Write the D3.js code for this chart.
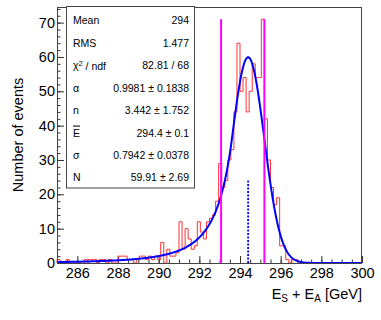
<!DOCTYPE html>
<html lang="en">
<head>
    <meta charset="UTF-8"/>
    <title>Energy sum fit</title>
    <script src="https://d3js.org/d3.v7.min.js"></script>
    <style>
        body { margin: 0; background: #fff; }
        text { font-family: "Liberation Sans", Arial, sans-serif; }
        .tick line { stroke: #333; }
    </style>
</head>
<body>
<div id="chart"></div>
<script>
    // histogram: 100 bins of 0.15 GeV starting at 285 GeV
    const binStart = 285;
    const binWidth = 0.15;
    const counts = [
        1, 0, 0, 1, 0, 0, 0, 0, 0, 1,
        1, 1, 1, 0, 1, 1, 0, 1, 0, 0,
        2, 2, 2, 1, 1, 0, 1, 2, 2, 1,
        2, 1, 2, 1, 6, 0, 4, 2, 2, 3,
        12, 4, 10, 7, 4, 5, 12, 9, 7, 12,
        13, 14, 18, 29, 22, 24, 30, 33, 44, 64,
        50, 54, 44, 50, 58, 54, 54, 71, 42, 30,
        22, 17, 19, 5, 5, 1, 0, 1, 1, 0,
        0, 0, 0, 0, 0, 0, 0, 0, 0, 0,
        0, 0, 0, 0, 0, 0, 0, 0, 0, 0
    ];

    // crystal ball fit parameters (from the stat box)
    const fitAlpha = 0.9981;
    const fitN = 3.442;
    const fitMean = 294.4;
    const fitSigma = 0.7942;
    const fitNorm = 59.91;

    // vertical markers
    const windowEdges = [293.07, 295.2];
    const windowHeight = 71;
    const meanMarkerHeight = 24;

    // axis ticks
    const xTicks = [286, 288, 290, 292, 294, 296, 298, 300];
    const yTicks = [0, 10, 20, 30, 40, 50, 60, 70];

    // stat box
    const statLabels = ["Mean", "RMS", "χ2 / ndf", "α", "n", "E", "σ", "N"];
    const statValues = ["294", "1.477", "82.81 / 68", "0.9981 ± 0.1838", "3.442 ± 1.752",
        "294.4 ± 0.1", "0.7942 ± 0.0378", "59.91 ± 2.69"];

    const W = 381, H = 320;
    const frame = {left: 57, right: 362, top: 7, bottom: 263};

    const svg = d3.select("#chart").append("svg")
        .attr("width", W)
        .attr("height", H);

    const x = d3.scaleLinear().domain([285, 300]).range([frame.left, frame.right]);
    const y = d3.scaleLinear().domain([0, 74.55]).range([frame.bottom, frame.top]);

    // x axis, ticks pointing inward
    const xMinor = d3.range(285, 300.01, 0.5);
    svg.append("g")
        .attr("transform", "translate(0," + frame.bottom + ")")
        .call(d3.axisBottom(x).tickValues(xMinor).tickSize(-3.5).tickFormat(""))
        .call(g => g.select(".domain").remove());
    svg.append("g")
        .attr("transform", "translate(0," + frame.bottom + ")")
        .call(d3.axisBottom(x).tickValues(xTicks).tickSize(-7).tickPadding(4.5).tickFormat(d3.format("d")))
        .call(g => g.select(".domain").remove())
        .call(g => g.selectAll("text").style("font-size", "14.5px").attr("fill", "#000"));

    // y axis
    const yMinor = d3.range(0, 74.5, 2);
    svg.append("g")
        .attr("transform", "translate(" + frame.left + ",0)")
        .call(d3.axisLeft(y).tickValues(yMinor).tickSize(-3.5).tickFormat(""))
        .call(g => g.select(".domain").remove());
    svg.append("g")
        .attr("transform", "translate(" + frame.left + ",0)")
        .call(d3.axisLeft(y).tickValues(yTicks).tickSize(-7).tickPadding(2))
        .call(g => g.select(".domain").remove())
        .call(g => g.selectAll("text").style("font-size", "14.5px").attr("fill", "#000"));

    // histogram outline
    const steps = [{e: binStart, v: 0}];
    counts.forEach(function(c, i) { steps.push({e: binStart + i * binWidth, v: c}); });
    steps.push({e: binStart + counts.length * binWidth, v: 0});
    svg.append("path")
        .datum(steps)
        .attr("fill", "none")
        .attr("stroke", "#ff3333")
        .attr("stroke-width", 1)
        .attr("d", d3.line()
            .x(d => x(d.e))
            .y(d => y(d.v))
            .curve(d3.curveStepAfter));

    // crystal ball fit curve
    function crystalBall(e) {
        const t = (e - fitMean) / fitSigma;
        if (t > -fitAlpha) return fitNorm * Math.exp(-t * t / 2);
        const A = Math.pow(fitN / fitAlpha, fitN) * Math.exp(-fitAlpha * fitAlpha / 2);
        const B = fitN / fitAlpha - fitAlpha;
        return fitNorm * A * Math.pow(B - t, -fitN);
    }
    const fitPts = d3.range(285, 300.001, 0.02).map(e => ({e: e, v: crystalBall(e)}));
    svg.append("path")
        .datum(fitPts)
        .attr("fill", "none")
        .attr("stroke", "#0000ff")
        .attr("stroke-width", 2)
        .attr("d", d3.line().x(d => x(d.e)).y(d => y(d.v)));

    // magenta window lines
    svg.selectAll(".window")
        .data(windowEdges)
        .enter().append("line")
        .attr("x1", d => x(d)).attr("x2", d => x(d))
        .attr("y1", y(0)).attr("y2", y(windowHeight))
        .attr("stroke", "#ff00ff")
        .attr("stroke-width", 2);

    // dotted line at fitted mean
    svg.append("line")
        .attr("x1", x(fitMean)).attr("x2", x(fitMean))
        .attr("y1", y(0)).attr("y2", y(meanMarkerHeight))
        .attr("stroke", "#0000ff")
        .attr("stroke-width", 1.8)
        .attr("stroke-dasharray", "2,1.5");

    // frame
    svg.append("rect")
        .attr("x", frame.left + 0.5).attr("y", frame.top + 0.5)
        .attr("width", frame.right - frame.left - 1)
        .attr("height", frame.bottom - frame.top)
        .attr("fill", "none")
        .attr("stroke", "#444");

    // stat box
    svg.append("rect")
        .attr("x", 66.5).attr("y", 6.5)
        .attr("width", 128).attr("height", 181.5)
        .attr("fill", "#fff")
        .attr("stroke", "#444");

    const rows = svg.append("g").selectAll("g")
        .data(statLabels)
        .enter().append("g")
        .attr("transform", (d, i) => "translate(0," + (20.7 + i * 22.43) + ")");

    rows.append("text")
        .attr("x", 73)
        .attr("dy", "0.35em")
        .style("font-size", "10.5px")
        .each(function(d) {
            const t = d3.select(this);
            if (d === "χ2 / ndf") {
                t.append("tspan").text("χ");
                t.append("tspan").text("2").attr("dy", "-0.4em").style("font-size", "7.5px");
                t.append("tspan").text(" / ndf").attr("dy", "0.4em");
            } else if (d === "E") {
                t.append("tspan").text("E").style("text-decoration", "overline");
            } else {
                t.text(d);
            }
        });

    rows.append("text")
        .attr("x", 189)
        .attr("dy", "0.35em")
        .attr("text-anchor", "end")
        .style("font-size", "10.5px")
        .text((d, i) => statValues[i]);

    // axis titles
    const xt = svg.append("text")
        .attr("x", frame.right)
        .attr("y", 299)
        .attr("text-anchor", "end")
        .style("font-size", "14.5px");
    xt.append("tspan").text("E");
    xt.append("tspan").text("S").attr("dy", 3).style("font-size", "10px");
    xt.append("tspan").text(" + E").attr("dy", -3);
    xt.append("tspan").text("A").attr("dy", 3).style("font-size", "10px");
    xt.append("tspan").text(" [GeV]").attr("dy", -3);

    svg.append("text")
        .attr("transform", "translate(23,135) rotate(-90)")
        .attr("text-anchor", "middle")
        .style("font-size", "14.5px")
        .text("Number of events");
</script>
</body>
</html>
